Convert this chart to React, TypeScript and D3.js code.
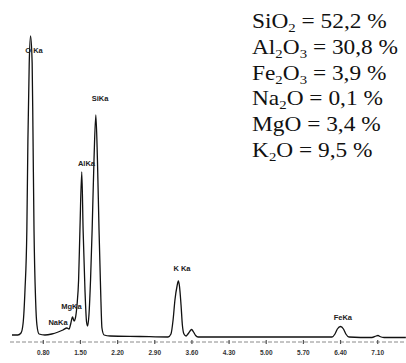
import React from "react";
import * as d3 from "d3";

// Spectrum samples (energy keV, counts a.u.)
const energy = [
  0.21, 0.32, 0.38, 0.42, 0.455, 0.49, 0.51, 0.535, 0.56, 0.59, 0.605, 0.625, 0.655, 0.68, 0.72,
  0.83, 0.96, 1.08, 1.17, 1.245, 1.285, 1.32, 1.35, 1.38, 1.405, 1.435, 1.465, 1.49, 1.525, 1.55,
  1.585, 1.615, 1.635, 1.66, 1.69, 1.72, 1.755, 1.79, 1.82, 1.85, 1.88, 1.905, 1.945, 2.06, 2.62,
  3.15, 3.205, 3.245, 3.28, 3.32, 3.345, 3.365, 3.395, 3.42, 3.45, 3.49, 3.525, 3.565, 3.595, 3.63,
  3.67, 3.715, 4.88, 6.24, 6.295, 6.34, 6.4, 6.455, 6.5, 6.56, 6.99, 7.07, 7.105, 7.14, 7.22, 7.63,
];
const counts = [
  60, 60, 80, 180, 510, 1110, 2010, 2780, 3050, 2780, 2110, 1110, 410, 160, 70,
  60, 70, 90, 110, 130, 120, 180, 240, 200, 230, 360, 610, 1110, 1690, 1110,
  510, 190, 150, 260, 610, 1110, 1810, 2260, 1810, 1110, 510, 130, 60, 50, 45,
  40, 70, 210, 410, 550, 600, 550, 360, 160, 70, 50, 70, 100, 115, 90,
  55, 40, 40, 40, 70, 120, 145, 120, 70, 40, 35, 50, 55, 45, 35, 35,
];

// Peak labels
const peakNames = ["O Ka", "NaKa", "MgKa", "AlKa", "SiKa", "K Ka", "FeKa"];
const peakEnergy = [0.625, 1.077, 1.331, 1.614, 1.868, 3.413, 6.444];
const peakLabelCounts = [2880, 160, 320, 1750, 2400, 700, 210];

// Axis ticks
const tickValues = [0.8, 1.5, 2.2, 2.9, 3.6, 4.3, 5.0, 5.7, 6.4, 7.1];

// Composition
const oxides = ["SiO2", "Al2O3", "Fe2O3", "Na2O", "MgO", "K2O"];
const percents = [52.2, 30.8, 3.9, 0.1, 3.4, 9.5];

const W = 406;
const H = 363;

function formulaParts(f: string) {
  const parts = f.match(/[A-Za-z]+|\d+/g) || [];
  const out: React.ReactNode[] = [];
  let sub = false;
  parts.forEach((p, i) => {
    if (/\d/.test(p)) {
      out.push(
        <tspan key={i} dy={4} fontSize={13}>
          {p}
        </tspan>
      );
      sub = true;
    } else {
      out.push(
        <tspan key={i} dy={sub ? -4 : 0}>
          {p}
        </tspan>
      );
      sub = false;
    }
  });
  return { out, sub };
}

export default function App() {
  const x = d3.scaleLinear().domain([0.8, 7.1]).range([43.3, 377.7]);
  const y = d3.scaleLinear().domain([0, 3000]).range([341, 41]);
  const pts: [number, number][] = energy.map((e, i) => [e, counts[i]]);
  const line = d3
    .line<[number, number]>()
    .x((d) => x(d[0]))
    .y((d) => y(d[1]))
    .curve(d3.curveMonotoneX);
  const fmt = d3.format(".2f");
  const axisY = 342;
  const lineGap = 25.8;

  return (
    <svg
      width={W}
      height={H}
      style={{ position: "absolute", left: 0, top: 0, background: "#fff" }}
    >
      <rect width={W} height={H} fill="#fff" />
      {/* axis */}
      <line
        x1={10}
        x2={W}
        y1={axisY}
        y2={axisY}
        stroke="#8a8a8a"
        strokeWidth={1}
        strokeDasharray="4,2"
      />
      {tickValues.map((t) => (
        <g key={t} transform={`translate(${x(t)},0)`}>
          <line y1={axisY - 2} y2={axisY + 2} stroke="#555" strokeWidth={1.2} />
          <text
            y={axisY + 13}
            textAnchor="middle"
            fontFamily="Liberation Sans, Arial, sans-serif"
            fontWeight="bold"
            fontSize={6.5}
            fill="#333"
          >
            {fmt(t)}
          </text>
        </g>
      ))}
      {/* spectrum */}
      <path d={line(pts) || ""} fill="none" stroke="#111" strokeWidth={1.3} />
      {/* peak labels */}
      {peakNames.map((n, i) => (
        <text
          key={n}
          x={x(peakEnergy[i])}
          y={y(peakLabelCounts[i])}
          textAnchor="middle"
          fontFamily="Liberation Sans, Arial, sans-serif"
          fontWeight="bold"
          fontSize={7.5}
          fill="#222"
        >
          {n}
        </text>
      ))}
      {/* composition */}
      <g transform="translate(252,0) scale(1.14,1)">
        {oxides.map((o, i) => {
          const r = formulaParts(o);
          return (
            <text
              key={o}
              x={0}
              y={28 + i * lineGap}
              fontFamily="Liberation Serif, Times New Roman, serif"
              fontSize={20.5}
              fill="#111"
            >
              {r.out}
              <tspan dy={r.sub ? -4 : 0}>
                {" = " + d3.format(".1f")(percents[i]).replace(".", ",") + " %"}
              </tspan>
            </text>
          );
        })}
      </g>
    </svg>
  );
}
